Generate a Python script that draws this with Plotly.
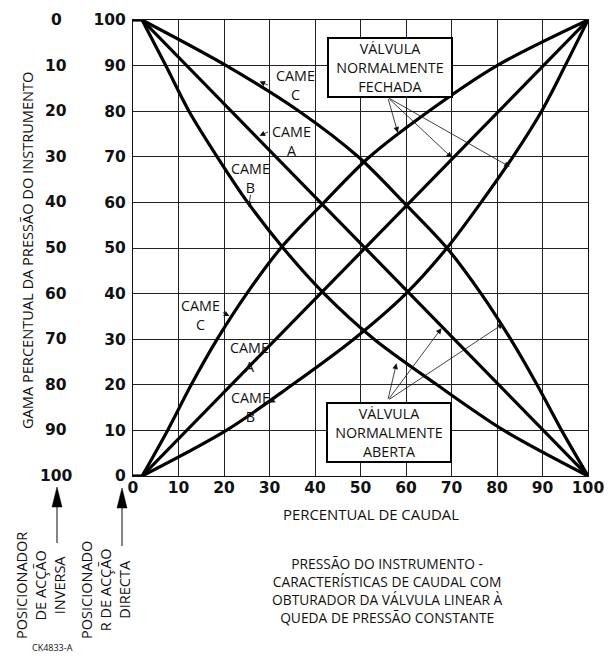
import plotly.graph_objects as go

# ---------------- data ----------------
ticks = [0, 10, 20, 30, 40, 50, 60, 70, 80, 90, 100]
inverse_ticks = ["100", "90", "80", "70", "60", "50", "40", "30", "20", "10", "0"]

# short flat lead-in where all curves leave the axes
lead_flow = [0, 2]

# normally closed valve (pressure rises with flow)
nc_pressure = [0, 10, 20, 30, 40, 50, 60, 70, 80, 90, 100]
nc_flow_C = [2, 7.6, 12.8, 18.5, 25, 32.5, 42, 52, 65, 80, 100]
nc_flow_B = [2, 20.5, 35, 48.5, 60, 69, 76.5, 83.5, 89.8, 95, 100]
nc_flow_A = [2, 100]
nc_pressure_A = [0, 100]

# normally open valve (pressure falls with flow)
no_pressure = [100, 90, 80, 70, 60, 50, 40, 30, 20, 10, 0]
no_flow_C = [2, 20.5, 36.5, 49.5, 59.5, 69, 76.5, 83, 88.8, 94.2, 100]
no_flow_B = [2, 7.2, 12.3, 18.5, 25.2, 33, 42, 53, 66.8, 81.5, 100]
no_flow_A = [2, 100]
no_pressure_A = [100, 0]

# ---------------- figure ----------------
W, H = 613, 656
L, R, T, B = 133, 25, 20, 180
PW, PH = W - L - R, H - T - B


def px(p):
    return (p - L) / PW


def py(p):
    return (H - B - p) / PH


LABEL_FONT = "Open Sans"
TICK_FONT = "DejaVu Sans"
INK = "#111111"

fig = go.Figure()
curves = [
    (nc_flow_C, nc_pressure), (nc_flow_A, nc_pressure_A), (nc_flow_B, nc_pressure),
    (no_flow_C, no_pressure), (no_flow_A, no_pressure_A), (no_flow_B, no_pressure),
]
for fx, fy in curves:
    fig.add_trace(go.Scatter(x=fx, y=fy, mode="lines",
                             line=dict(color="black", width=3.2, shape="spline", smoothing=0.9),
                             showlegend=False, hoverinfo="skip", cliponaxis=False))
for level in (0, 100):
    fig.add_trace(go.Scatter(x=lead_flow, y=[level, level], mode="lines",
                             line=dict(color="black", width=3.2),
                             showlegend=False, hoverinfo="skip", cliponaxis=False))

tickfont = dict(family=TICK_FONT, size=15.5, color=INK, weight="bold")
axis_common = dict(range=[0, 100], tickvals=ticks, showgrid=True, gridcolor="#222222",
                   gridwidth=1, zeroline=False, showline=True, linecolor="#111111",
                   linewidth=1, mirror=True, ticks="", fixedrange=True,
                   tickfont=tickfont)
fig.update_xaxes(**axis_common, ticktext=[str(t) for t in ticks], tickmode="array",
                 ticklabelstandoff=-3)
fig.update_yaxes(**axis_common, ticktext=[str(t) for t in ticks], tickmode="array",
                 ticklabelstandoff=3)

ann = []
C = dict(xanchor="center", yanchor="middle", showarrow=False)
# inverse-acting scale (outer column)
for t, lab in zip(ticks, inverse_ticks):
    ann.append(dict(x=px(56), xref="paper", y=t, yref="y", text=lab,
                    font=tickfont, **C))


def lf(size):
    return dict(family=LABEL_FONT, size=size, color=INK)


# axis titles
ann.append(dict(x=px(27), xref="paper", y=py(251), yref="paper",
                text="GAMA PERCENTUAL DA PRESSÃO DO INSTRUMENTO", textangle=-90,
                font=lf(14.6), **C))
ann.append(dict(x=px(371), xref="paper", y=py(514), yref="paper",
                text="PERCENTUAL DE CAUDAL", font=lf(14.9), **C))
# caption
ann.append(dict(x=px(387), xref="paper", y=py(590), yref="paper",
                text="PRESSÃO DO INSTRUMENTO -<br>CARACTERÍSTICAS DE CAUDAL COM<br>"
                     "OBTURADOR DA VÁLVULA LINEAR À<br>QUEDA DE PRESSÃO CONSTANTE",
                font=lf(13.8), align="center", **C))
# positioner labels
ann.append(dict(x=px(40), xref="paper", y=py(586), yref="paper",
                text="POSICIONADOR<br>DE ACÇÃO<br>INVERSA", textangle=-90,
                font=lf(14.5), align="center", **C))
ann.append(dict(x=px(105), xref="paper", y=py(590), yref="paper",
                text="POSICIONADO<br>R DE ACÇÃO<br>DIRECTA", textangle=-90,
                font=lf(14.5), align="center", **C))
ann.append(dict(x=px(52), xref="paper", y=py(647), yref="paper", text="CK4833-A",
                font=lf(9), **C))

# boxes
box = dict(bgcolor="white", bordercolor="black", borderwidth=2,
           borderpad=2, width=118, height=53, font=lf(14.3), align="center", **C)
ann.append(dict(x=56.5, y=89.6, text="VÁLVULA<br>NORMALMENTE<br>FECHADA", **box))
ann.append(dict(x=56.2, y=9.5, text="VÁLVULA<br>NORMALMENTE<br>ABERTA", **box))

# pointer arrows from the boxes
arr = dict(text="", showarrow=True, arrowhead=2, arrowsize=1.4, arrowwidth=0.8,
           arrowcolor=INK, axref="x", ayref="y")
for tip in [(58.2, 75.3), (70.1, 69.8), (82.8, 67.8)]:
    ann.append(dict(x=tip[0], y=tip[1], ax=56, ay=83, **arr))
for tip in [(57.9, 24.7), (67.8, 32.4), (81.4, 33.4)]:
    ann.append(dict(x=tip[0], y=tip[1], ax=56, ay=16.6, **arr))

# CAME labels
came = [("CAME<br>C", 35.8, 85.7), ("CAME<br>A", 34.9, 73.5), ("CAME<br>B", 25.8, 65.4),
        ("CAME<br>C", 14.9, 35.3), ("CAME<br>A", 25.5, 26.1), ("CAME<br>B", 25.8, 15.2)]
for txt, x, y in came:
    ann.append(dict(x=x, y=y, text=txt, font=lf(14.3), align="center", **C))
for tip, tail in [((27.8, 86.5), (30.0, 85.6)), ((27.8, 74.6), (30.0, 75.6)),
                  ((25.4, 59.0), (25.9, 62.0)), ((21.2, 35.1), (19.4, 36.0)),
                  ((31.4, 16.2), (29.9, 16.8))]:
    ann.append(dict(x=tip[0], y=tip[1], ax=tail[0], ay=tail[1], **arr))

# positioner arrows (outside the plot)
shapes = []
for xp, tip_y, tail_y in [(57, 487, 543), (122, 488, 546)]:
    shapes.append(dict(type="line", xref="paper", yref="paper",
                       x0=px(xp), x1=px(xp), y0=py(tail_y), y1=py(tip_y + 10),
                       line=dict(color="#333333", width=1.2)))
    path = (f"M {px(xp)} {py(tip_y)} L {px(xp - 5)} {py(tip_y + 20)} "
            f"L {px(xp + 5)} {py(tip_y + 20)} Z")
    shapes.append(dict(type="path", xref="paper", yref="paper", path=path,
                       fillcolor="black", line=dict(color="black", width=0.5)))

fig.update_layout(width=W, height=H, margin=dict(l=L, r=R, t=T, b=B, autoexpand=False),
                  plot_bgcolor="white", paper_bgcolor="white",
                  annotations=ann, shapes=shapes, showlegend=False)

fig.write_html("out.html", config={"displayModeBar": False},
               post_script="document.body.style.margin='0px';")
